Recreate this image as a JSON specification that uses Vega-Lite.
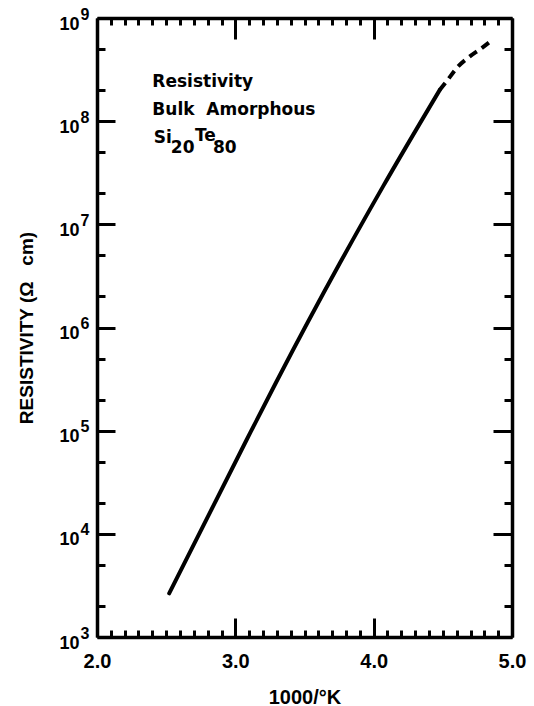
{
  "$schema": "https://vega.github.io/schema/vega-lite/v6.json",
  "width": 415,
  "height": 619,
  "autosize": {"type": "none"},
  "padding": {"left": 97, "top": 18, "right": 22, "bottom": 69},
  "background": "white",
  "config": {"view": {"stroke": null}, "axis": {"grid": false, "domainColor": "black", "tickColor": "black", "labelColor": "black", "titleColor": "black", "labelOverlap": false, "labelFlush": false}},
  "datasets": {
    "solid": [
      {"x": 2.522, "r": 2650},
      {"x": 3.081, "r": 81200},
      {"x": 3.297, "r": 298000},
      {"x": 3.755, "r": 4190000},
      {"x": 4.067, "r": 23200000},
      {"x": 4.477, "r": 200000000}
    ],
    "dashed": [
      {"x": 4.477, "r": 200000000},
      {"x": 4.525, "r": 241000000},
      {"x": 4.609, "r": 337000000},
      {"x": 4.693, "r": 422000000},
      {"x": 4.778, "r": 508000000},
      {"x": 4.85, "r": 603000000}
    ],
    "notes": [
      {"x": 2.40, "r": 214000000, "t": "Resistivity", "g": "a"},
      {"x": 2.40, "r": 114000000, "t": "Bulk\u00a0\u00a0Amorphous", "g": "b"},
      {"x": 2.41, "r": 61200000, "t": "Si", "g": "c"},
      {"x": 2.534, "r": 49000000, "t": "20", "g": "c"},
      {"x": 2.708, "r": 64000000, "t": "Te", "g": "c"},
      {"x": 2.838, "r": 49000000, "t": "80", "g": "c"}
    ]
  },
  "resolve": {"axis": {"x": "independent", "y": "independent"}},
  "layer": [
    {
      "data": {"name": "solid"},
      "mark": {"type": "line", "color": "black", "strokeWidth": 4, "strokeCap": "round", "interpolate": "monotone"},
      "encoding": {
        "x": {"field": "x", "type": "quantitative", "scale": {"domain": [2, 5], "nice": false, "zero": false},
          "axis": {"orient": "bottom", "title": "1000/°K", "values": [2, 3, 4, 5], "format": ".1f",
            "tickSize": -19, "tickWidth": 3, "domainWidth": 3.5,
            "labelFont": "Liberation Sans", "labelFontWeight": "bold", "labelFontSize": 20, "labelPadding": 33,
            "titleFont": "Liberation Sans", "titleFontWeight": "bold", "titleFontSize": 20,
            "titleY": 66, "titleBaseline": "alphabetic"}},
        "y": {"field": "r", "type": "quantitative", "scale": {"type": "log", "domain": [1000, 1000000000], "nice": false},
          "axis": {"orient": "left", "title": "RESISTIVITY (Ω\u00a0\u00a0\u00a0cm)",
            "values": [1000, 10000, 100000, 1000000, 10000000, 100000000, 1000000000],
            "labelExpr": "'10'", "labelBaseline": "middle", "labelOffset": 6,
            "tickSize": -18, "tickWidth": 3, "domainWidth": 3.5,
            "labelFont": "Liberation Sans", "labelFontWeight": "bold", "labelFontSize": 18, "labelPadding": 36,
            "titleFont": "Liberation Sans", "titleFontWeight": "bold", "titleFontSize": 19, "titlePadding": 22}}
      }
    },
    {
      "data": {"name": "dashed"},
      "mark": {"type": "line", "color": "black", "strokeWidth": 4, "strokeDash": [9, 6], "interpolate": "monotone"},
      "encoding": {
        "x": {"field": "x", "type": "quantitative",
          "axis": {"orient": "top", "title": null, "labels": false, "values": [2, 3, 4, 5],
            "tickSize": -21, "tickWidth": 3, "domainWidth": 3.5}},
        "y": {"field": "r", "type": "quantitative",
          "axis": {"orient": "right", "title": null, "labels": false,
            "values": [1000, 10000, 100000, 1000000, 10000000, 100000000, 1000000000],
            "tickSize": -19, "tickWidth": 3, "domainWidth": 3.5}}
      }
    },
    {
      "data": {"name": "notes"},
      "transform": [{"filter": "datum.g == 'a'"}],
      "mark": {"type": "text", "align": "left", "baseline": "alphabetic", "font": "DejaVu Sans", "fontWeight": "bold", "fontSize": 17, "color": "black"},
      "encoding": {
        "x": {"field": "x", "type": "quantitative",
          "axis": {"orient": "bottom", "title": null, "labels": false, "domain": false,
            "values": [2.1,2.2,2.3,2.4,2.5,2.6,2.7,2.8,2.9,3.1,3.2,3.3,3.4,3.5,3.6,3.7,3.8,3.9,4.1,4.2,4.3,4.4,4.5,4.6,4.7,4.8,4.9],
            "tickSize": -7, "tickWidth": 3}},
        "y": {"field": "r", "type": "quantitative",
          "axis": {"orient": "left", "title": null, "labels": false, "domain": false,
            "values": [2000,5000,20000,50000,200000,500000,2000000,5000000,20000000,50000000,200000000,500000000],
            "tickSize": -8, "tickWidth": 3}},
        "text": {"field": "t"}
      }
    },
    {
      "data": {"name": "notes"},
      "transform": [{"filter": "datum.g == 'b'"}],
      "mark": {"type": "text", "align": "left", "baseline": "alphabetic", "font": "DejaVu Sans", "fontWeight": "bold", "fontSize": 17, "color": "black"},
      "encoding": {
        "x": {"field": "x", "type": "quantitative",
          "axis": {"orient": "top", "title": null, "labels": false, "domain": false,
            "values": [2.1,2.2,2.3,2.4,2.5,2.6,2.7,2.8,2.9,3.1,3.2,3.3,3.4,3.5,3.6,3.7,3.8,3.9,4.1,4.2,4.3,4.4,4.5,4.6,4.7,4.8,4.9],
            "tickSize": -7, "tickWidth": 3}},
        "y": {"field": "r", "type": "quantitative",
          "axis": {"orient": "right", "title": null, "labels": false, "domain": false,
            "values": [2000,5000,20000,50000,200000,500000,2000000,5000000,20000000,50000000,200000000,500000000],
            "tickSize": -8, "tickWidth": 3}},
        "text": {"field": "t"}
      }
    },
    {
      "data": {"name": "notes"},
      "transform": [{"filter": "datum.g == 'c'"}],
      "mark": {"type": "text", "align": "left", "baseline": "alphabetic", "font": "DejaVu Sans", "fontWeight": "bold", "fontSize": 17, "color": "black"},
      "encoding": {
        "x": {"field": "x", "type": "quantitative", "axis": null},
        "y": {"field": "r", "type": "quantitative",
          "axis": {"orient": "left", "title": null, "domain": false, "ticks": false,
            "values": [1000, 10000, 100000, 1000000, 10000000, 100000000, 1000000000],
            "labelExpr": "toString(round(log(datum.value)/LN10))",
            "labelBaseline": "middle", "labelOffset": -4,
            "labelFont": "Liberation Sans", "labelFontWeight": "bold", "labelFontSize": 16, "labelPadding": 8}},
        "text": {"field": "t"}
      }
    }
  ]
}
